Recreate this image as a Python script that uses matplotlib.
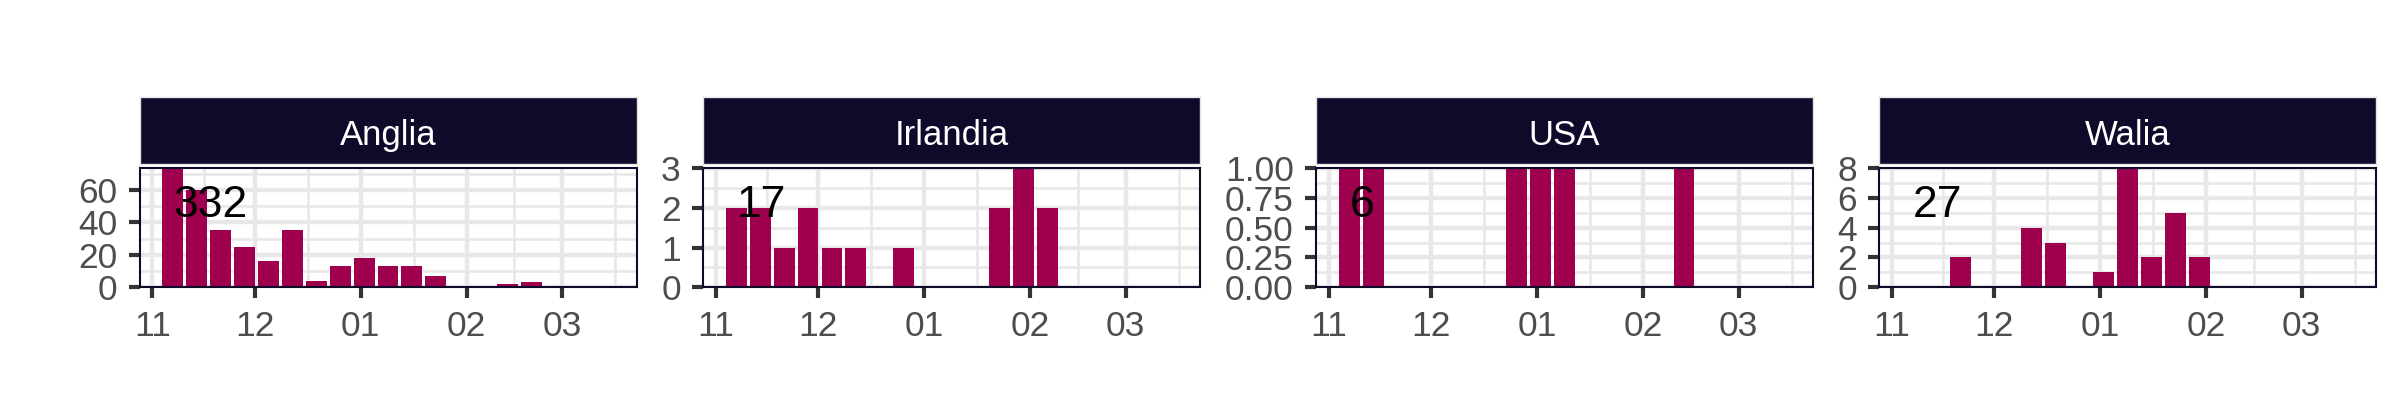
import numpy as np
import pandas as pd
import matplotlib
matplotlib.use('Agg')
import matplotlib.pyplot as plt
import matplotlib.dates as mdates
from matplotlib.ticker import FixedLocator, FuncFormatter
from matplotlib.transforms import blended_transform_factory

plt.rcParams['font.family'] = ['Liberation Sans', 'DejaVu Sans']

# weekly counts per country
weeks = pd.to_datetime(['2020-11-07', '2020-11-14', '2020-11-21', '2020-11-28',
                        '2020-12-05', '2020-12-12', '2020-12-19', '2020-12-26',
                        '2021-01-02', '2021-01-09', '2021-01-16', '2021-01-23',
                        '2021-01-30', '2021-02-06', '2021-02-13', '2021-02-20',
                        '2021-02-27', '2021-03-06', '2021-03-13'])
countries = ['Anglia', 'Irlandia', 'USA', 'Walia']
anglia = [87, 60, 35, 25, 16, 35, 4, 13, 18, 13, 13, 7, 0, 1, 2, 3, 0, 0, 0]
irlandia = [2, 2, 1, 2, 1, 1, 0, 1, 0, 0, 0, 2, 3, 2, 0, 0, 0, 0, 0]
usa = [1, 1, 0, 0, 0, 0, 0, 1, 1, 1, 0, 0, 0, 0, 1, 0, 0, 0, 0]
walia = [0, 0, 2, 0, 0, 4, 3, 0, 1, 8, 2, 5, 2, 0, 0, 0, 0, 0, 0]
series = [anglia, irlandia, usa, walia]

y_top = [73.5, 3, 1, 8]
y_major = [[0, 20, 40, 60], [0, 1, 2, 3], [0, 0.25, 0.5, 0.75, 1.0], [0, 2, 4, 6, 8]]
y_fmt = ['%d', '%d', '%.2f', '%d']

bar_col = '#9E004D'
navy = '#0D0A2A'
grid_col = '#E8E8E8'

# month breaks, minor breaks halfway between
months = pd.to_datetime(['2020-10-01', '2020-11-01', '2020-12-01', '2021-01-01',
                         '2021-02-01', '2021-03-01', '2021-04-01'])
mnum = mdates.date2num(months)
minor_x = (mnum[:-1] + mnum[1:]) / 2

bar_w = 6.1
wnum = mdates.date2num(weeks)
lo = wnum[0] - 3.15
hi = wnum[-1] + 3.15
pad = (hi - lo) * 0.05

fig = plt.figure(figsize=(24, 4.2), dpi=100)

lefts = [139.5, 703, 1316, 1879]
pw = 497 / 2400

for i in range(4):
    l = lefts[i] / 2400
    ax = fig.add_axes([l, 1 - 287.3 / 420, pw, (287.3 - 168) / 420])
    ax.set_axisbelow(True)
    ax.bar(weeks, series[i], width=bar_w, color=bar_col, zorder=2)
    ax.set_xlim(lo - pad, hi + pad)
    ax.set_ylim(0, y_top[i])

    ax.xaxis.set_major_locator(FixedLocator(mnum))
    ax.xaxis.set_major_formatter(mdates.DateFormatter('%m'))
    ax.xaxis.set_minor_locator(FixedLocator(minor_x))
    ax.yaxis.set_major_locator(FixedLocator(y_major[i]))
    ym = np.array(y_major[i])
    step = ym[1] - ym[0]
    ax.yaxis.set_minor_locator(FixedLocator(list(ym + step / 2)))
    fmt = y_fmt[i]
    ax.yaxis.set_major_formatter(FuncFormatter(lambda v, p, f=fmt: f % v))

    ax.grid(which='major', color=grid_col, linewidth=3.2)
    ax.grid(which='minor', color=grid_col, linewidth=1.9)
    ax.tick_params(which='major', length=8, width=3, color='#333333',
                   labelsize=25.5, labelcolor='#4D4D4D', pad=8)
    ax.tick_params(which='minor', length=0)
    for s in ax.spines.values():
        s.set_color(navy)
        s.set_linewidth(1.5)
        s.set_zorder(3)

    tr = blended_transform_factory(ax.transData, ax.transAxes)
    ax.text(weeks[0], 0.588, str(int(sum(series[i]))), transform=tr,
            fontsize=32, ha='left', va='baseline', color='black', zorder=4)

    st = fig.add_axes([l, 1 - 164.5 / 420, pw, 67.5 / 420])
    st.set_facecolor(navy)
    st.set_xticks([])
    st.set_yticks([])
    for s in st.spines.values():
        s.set_color('#E3E3E3')
        s.set_linewidth(1)
    st.text(0.5, 0.294, countries[i], transform=st.transAxes, ha='center',
            va='baseline', fontsize=25, color='white')

fig.savefig('out.png', dpi=100)
